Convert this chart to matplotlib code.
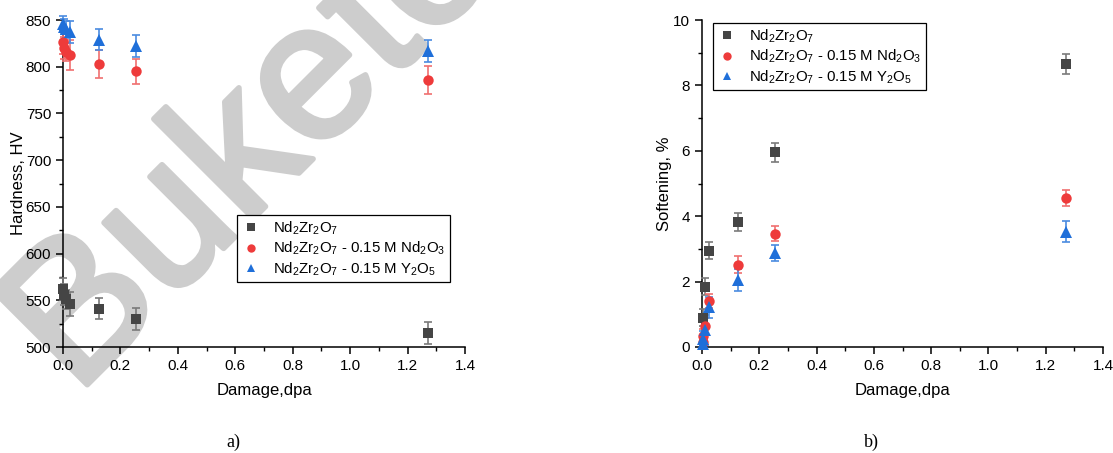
import matplotlib
matplotlib.use("Agg")
import matplotlib.pyplot as plt
import matplotlib.patheffects as pe
from matplotlib.ticker import MultipleLocator

plt.rcParams['font.family'] = ['Liberation Sans', 'DejaVu Sans']
plt.rcParams['mathtext.default'] = 'regular'

# ---- data: Hardness (panel a) ----
hx_black = [0.0, 0.005, 0.012, 0.025, 0.127, 0.255, 1.27]
hy_black = [562, 556, 551, 546, 541, 530, 515]
he_black = [12, 11, 10, 13, 11, 12, 12]

hx_red = [0.0, 0.005, 0.012, 0.025, 0.127, 0.255, 1.27]
hy_red = [826, 820, 816, 813, 803, 795, 786]
he_red = [12, 12, 10, 16, 15, 13, 15]

hx_blue = [0.0, 0.005, 0.012, 0.025, 0.127, 0.255, 1.27]
hy_blue = [846, 843, 840, 837, 829, 822, 817]
he_blue = [8, 8, 9, 12, 11, 12, 12]

# ---- data: Softening (panel b) ----
sx_black = [0.002, 0.01, 0.025, 0.127, 0.255, 1.27]
sy_black = [0.9, 1.85, 2.95, 3.83, 5.95, 8.65]
se_black = [0.25, 0.25, 0.25, 0.27, 0.3, 0.3]

sx_red = [0.002, 0.005, 0.012, 0.025, 0.127, 0.255, 1.27]
sy_red = [0.15, 0.35, 0.65, 1.4, 2.52, 3.47, 4.55]
se_red = [0.2, 0.2, 0.25, 0.22, 0.27, 0.23, 0.25]

sx_blue = [0.002, 0.005, 0.012, 0.025, 0.127, 0.255, 1.27]
sy_blue = [0.08, 0.25, 0.52, 1.22, 2.05, 2.88, 3.52]
se_blue = [0.15, 0.25, 0.45, 0.32, 0.35, 0.25, 0.32]

labels = ['Nd$_2$Zr$_2$O$_7$',
          'Nd$_2$Zr$_2$O$_7$ - 0.15 M Nd$_2$O$_3$',
          'Nd$_2$Zr$_2$O$_7$ - 0.15 M Y$_2$O$_5$']

c_black = '#454545'
c_red = '#EE3B3B'
c_blue = '#1F6FD9'
ec_black = '#7a7a7a'
ec_red = '#F07070'
ec_blue = '#4A8BE0'

W, H = 1113, 453
fig = plt.figure(figsize=(W / 100, H / 100), dpi=100)

# watermark behind everything
wm_color = '#cdcdcd'
fig.text(76 / W, 1 - 396 / H, 'Buketov', fontsize=140, color=wm_color,
         rotation=45, rotation_mode='anchor', ha='left', va='baseline',
         zorder=-10, family='Liberation Sans',
         path_effects=[pe.withStroke(linewidth=4, foreground=wm_color)])

ax1 = fig.add_axes([63 / W, 1 - 347 / H, (465 - 63) / W, (347 - 20) / H])
ax2 = fig.add_axes([702 / W, 1 - 347 / H, (1103 - 702) / W, (347 - 20) / H])

def draw(ax, data):
    handles = []
    for (x, y, e, c, ec, m, ms) in data:
        ax.errorbar(x, y, yerr=e, fmt='none', ecolor=ec, elinewidth=1.2,
                    capsize=3.2, capthick=1.2, zorder=3, clip_on=False)
        h, = ax.plot(x, y, linestyle='none', marker=m, color=c, ms=ms,
                     markeredgewidth=0, zorder=4, clip_on=False)
        handles.append(h)
    return handles

h1 = draw(ax1, [
    (hx_black, hy_black, he_black, c_black, ec_black, 's', 6.5),
    (hx_red, hy_red, he_red, c_red, ec_red, 'o', 7.5),
    (hx_blue, hy_blue, he_blue, c_blue, ec_blue, '^', 8),
])
h2 = draw(ax2, [
    (sx_black, sy_black, se_black, c_black, ec_black, 's', 6.5),
    (sx_red, sy_red, se_red, c_red, ec_red, 'o', 7.5),
    (sx_blue, sy_blue, se_blue, c_blue, ec_blue, '^', 8),
])

ax1.set_xlim(0, 1.4)
ax1.set_ylim(500, 850)
ax1.yaxis.set_major_locator(MultipleLocator(50))
ax1.yaxis.set_minor_locator(MultipleLocator(25))
ax2.set_xlim(0, 1.4)
ax2.set_ylim(0, 10)
ax2.yaxis.set_major_locator(MultipleLocator(2))
ax2.yaxis.set_minor_locator(MultipleLocator(1))

for ax in (ax1, ax2):
    ax.patch.set_visible(False)
    ax.xaxis.set_major_locator(MultipleLocator(0.2))
    ax.xaxis.set_minor_locator(MultipleLocator(0.1))
    ax.xaxis.set_major_formatter(matplotlib.ticker.FormatStrFormatter('%.1f'))
    ax.spines['top'].set_visible(False)
    ax.spines['right'].set_visible(False)
    for s in ('left', 'bottom'):
        ax.spines[s].set_linewidth(1.1)
    ax.tick_params(which='major', direction='out', length=5, width=1.1,
                   labelsize=11, colors='black')
    ax.tick_params(which='minor', direction='out', length=3, width=1.0)
    ax.set_xlabel('Damage,dpa', fontsize=12, labelpad=7)

ax1.set_ylabel('Hardness, HV', fontsize=12, labelpad=-0.5)
ax2.set_ylabel('Softening, %', fontsize=12, labelpad=1)

legkw = dict(frameon=True, fancybox=False, edgecolor='black', fontsize=10.8,
             handlelength=1.2, handletextpad=0.9, borderpad=0.3,
             labelspacing=0.2, markerscale=0.8, borderaxespad=0,
             bbox_transform=fig.transFigure, loc='upper left')

leg1 = ax1.legend(h1, labels, bbox_to_anchor=(237 / W, 1 - 215 / H), **legkw)
leg2 = ax2.legend(h2, labels, bbox_to_anchor=(713 / W, 1 - 23 / H), **legkw)
for lg in (leg1, leg2):
    lg.get_frame().set_linewidth(0.9)
    lg.get_frame().set_alpha(1)

fig.text(233 / W, 1 - 442 / H, 'a)', fontsize=13, family='Liberation Serif',
         ha='center', va='center')
fig.text(871 / W, 1 - 442 / H, 'b)', fontsize=13, family='Liberation Serif',
         ha='center', va='center')

fig.savefig('out.png', dpi=100)
